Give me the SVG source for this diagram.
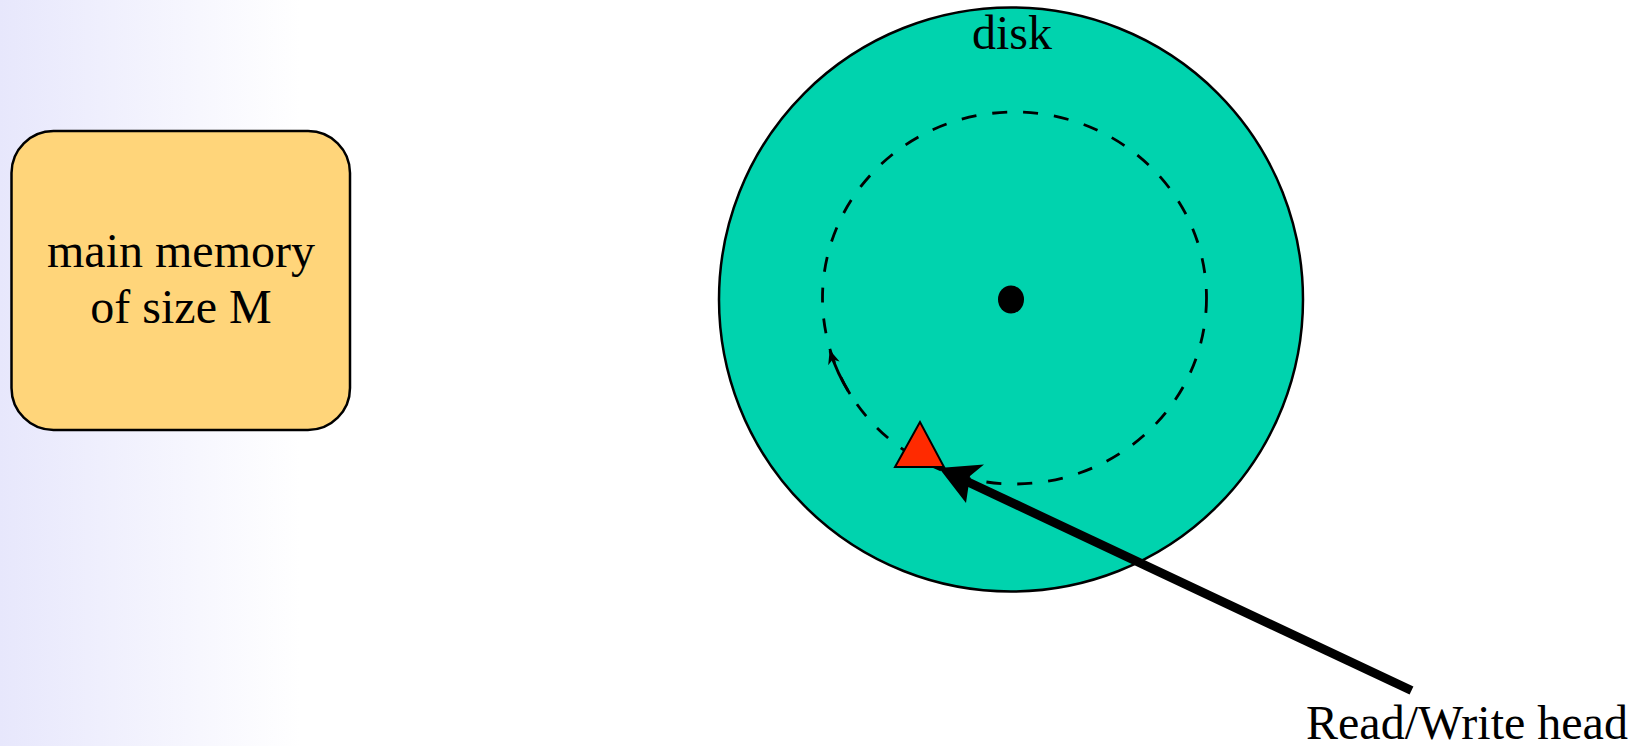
<svg xmlns="http://www.w3.org/2000/svg" width="1648" height="746" viewBox="0 0 1648 746">
  <defs>
    <linearGradient id="bg" x1="0" y1="0" x2="1" y2="0">
      <stop offset="0" stop-color="#e7e7fc"/>
      <stop offset="1" stop-color="#ffffff"/>
    </linearGradient>
    <marker id="smallArrow" viewBox="0 0 14 12" refX="13" refY="6" markerWidth="14" markerHeight="12" markerUnits="userSpaceOnUse" orient="auto">
      <path d="M0,0 L14,6 L0,12 L4,6 Z" fill="#000"/>
    </marker>
  </defs>
  <style>
    .label { font-family: "Liberation Serif", "Times New Roman", serif; font-size: 48px; fill: #000; }
    .outline { stroke: #000; stroke-width: 2.5; }
  </style>
  <rect x="0" y="0" width="1648" height="746" fill="#ffffff"/>
  <rect x="0" y="0" width="300" height="746" fill="url(#bg)"/>

  <g id="memory">
    <rect x="11.5" y="131" width="338.5" height="299" rx="42" ry="42" fill="#ffd57a" class="outline"/>
    <text class="label" x="181" y="267" text-anchor="middle">main memory</text>
    <text class="label" x="181" y="323" text-anchor="middle">of size M</text>
  </g>

  <g id="disk">
    <circle cx="1011" cy="299.5" r="292" fill="#00d3ae" class="outline"/>
    <text class="label" x="1012" y="49" text-anchor="middle">disk</text>
    <ellipse cx="1014.5" cy="298" rx="192" ry="186" fill="none" stroke="#000" stroke-width="2.8" stroke-dasharray="15 16"/>
    <ellipse cx="1011" cy="299.5" rx="13" ry="14" fill="#000"/>
  </g>

  <g id="head">
    <polygon points="920,422 895,467 944,467" fill="#ff2a00" stroke="#000" stroke-width="2" stroke-linejoin="miter"/>
  </g>

  <g id="connectors">
    <path d="M850,394 A192,186 0 0 1 830,351" fill="none" stroke="#000" stroke-width="2.8" marker-end="url(#smallArrow)"/>
    <line x1="1411.5" y1="690.5" x2="968" y2="482" stroke="#000" stroke-width="9"/>
    <polygon points="939,468 984,464.5 970,476 966,503" fill="#000"/>
  </g>

  <text id="rw-label" class="label" x="1306" y="739">Read/Write head</text>
</svg>
